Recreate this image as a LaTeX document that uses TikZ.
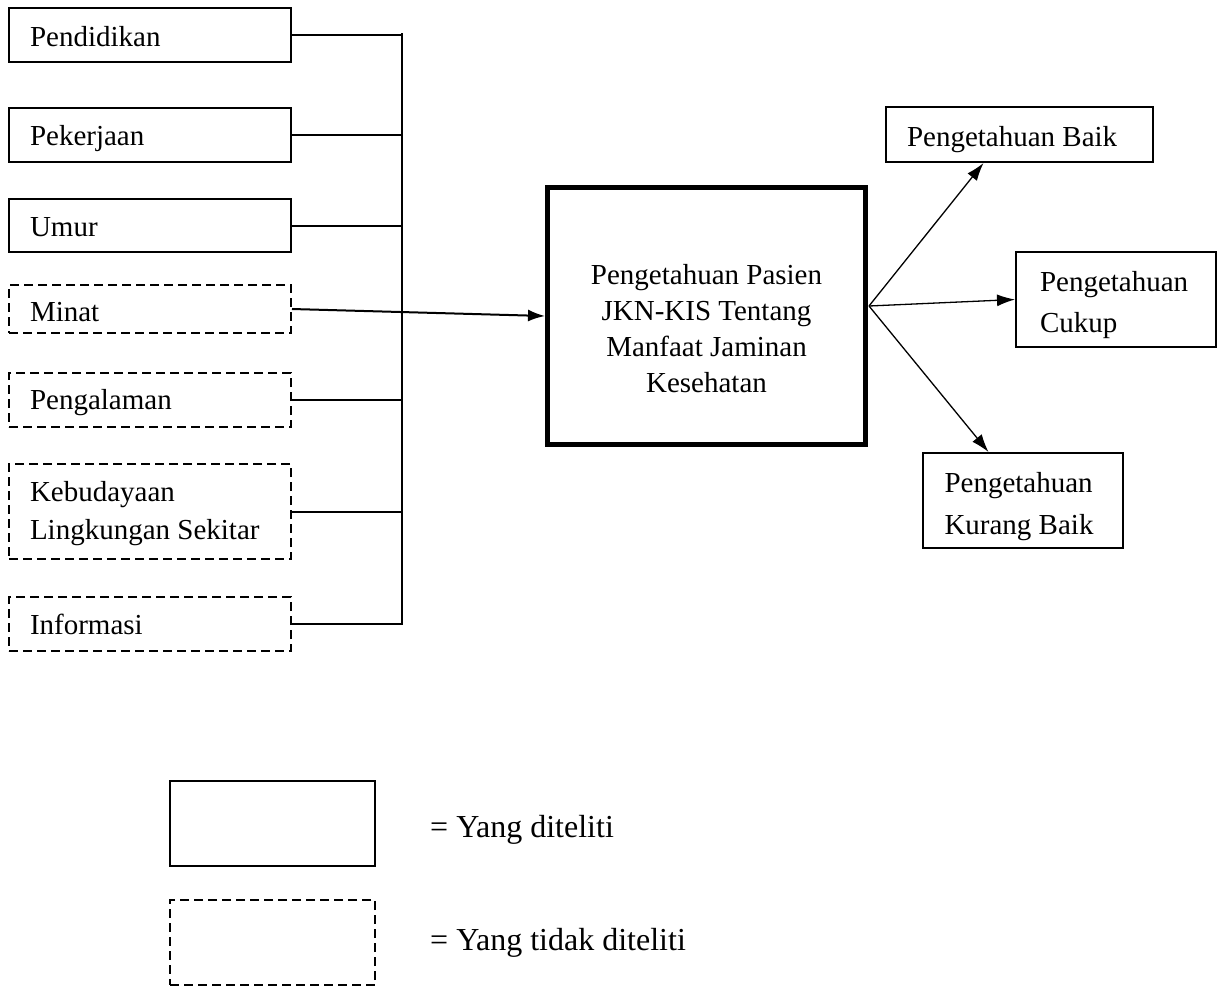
\documentclass[tikz,border=0pt]{standalone}
\usepackage{fontspec}
\setmainfont{Liberation Serif}
\usetikzlibrary{arrows.meta,calc}
\newcommand{\hs}[1]{\rule{0pt}{#1pt}}
\newcommand{\ds}[1]{\rule[-#1pt]{0pt}{#1pt}}
\begin{document}
\begin{tikzpicture}[x=1pt,y=-1pt,
  base/.style={draw, rectangle, line width=2pt, inner ysep=0pt, font=\fontsize{29}{40}\selectfont, align=flush left},
  solidbox/.style={base},
  dashbox/.style={base, dash pattern=on 9pt off 5pt},
  leftbox/.style={text width=240pt, inner xsep=21pt},
  conn/.style={line width=2pt},
  outarrow/.style={line width=1.3pt, -{Latex[length=18pt,width=12pt]}},
  legtext/.style={anchor=base west, inner sep=0pt, font=\fontsize{32}{36}\selectfont}
]
\useasboundingbox (0,0) rectangle (1222,986);

% left factors
\node[solidbox, leftbox, minimum height=54pt] (pend) at (150,35) {\hs{28}Pendidikan\ds{6}};
\node[solidbox, leftbox, minimum height=54pt] (pek) at (150,135) {\hs{28}Pekerjaan\ds{6}};
\node[solidbox, leftbox, minimum height=53pt] (umur) at (150,225.5) {\hs{28}Umur\ds{6}};
\node[dashbox, leftbox, minimum height=48pt] (minat) at (150,309) {\hs{30}Minat\ds{6}};
\node[dashbox, leftbox, minimum height=54pt] (peng) at (150,400) {\hs{26}Pengalaman\ds{6}};
\node[dashbox, leftbox, minimum height=95pt, font=\fontsize{29}{38}\selectfont] (keb) at (150,511.5) {\hs{25}Kebudayaan\\Lingkungan Sekitar\ds{6}};
\node[dashbox, leftbox, minimum height=54pt] (info) at (150,624) {\hs{26}Informasi\ds{6}};

% bus
\coordinate (btop) at (402,33);
\coordinate (bbot) at (402,625);
\draw[conn] (btop) -- (bbot);
\draw[conn] (pend.east) -- (pend.east -| btop);
\draw[conn] (pek.east) -- (pek.east -| btop);
\draw[conn] (umur.east) -- (umur.east -| btop);
\draw[conn] (peng.east) -- (peng.east -| btop);
\draw[conn] (keb.east) -- (keb.east -| btop);
\draw[conn] (info.east) -- (info.east -| btop);

% main box
\node[draw, rectangle, line width=5pt, minimum width=318pt, minimum height=257pt, inner sep=0pt] (main) at (706.5,316)
  {\raisebox{-15pt}[0pt][0pt]{\parbox{300pt}{\centering\fontsize{29}{36}\selectfont Pengetahuan Pasien\\JKN-KIS Tentang\\Manfaat Jaminan\\Kesehatan}}};

\draw[line width=2pt, -{Latex[length=17pt,width=12pt]}] (minat.east) -- (main.west);

% outcomes
\node[solidbox, text width=225pt, inner xsep=21pt, minimum height=55pt] (baik) at (1019.5,134.5) {\hs{31}Pengetahuan Baik\ds{6}};
\node[solidbox, text width=152pt, inner xsep=24pt, minimum height=95pt, font=\fontsize{29}{41}\selectfont] (cukup) at (1116,299.5)
  {\hs{32}Pengetahuan\\Cukup\ds{6}};
\node[solidbox, text width=156pt, inner xsep=22pt, minimum height=95pt, font=\fontsize{29}{42}\selectfont] (kurang) at (1022.5,500.5) {\hs{33}Pengetahuan\\Kurang Baik\ds{6}};

\coordinate (src) at (869,306);
\draw[outarrow] (src) -- ($(baik.south)+(-36,0)$);
\draw[outarrow] (src) -- (cukup.west);
\draw[outarrow] (src) -- ($(kurang.north)+(-34,0)$);

% legend
\node[solidbox, minimum width=205pt, minimum height=85pt] (leg1) at (272.5,823.5) {};
\node[dashbox, minimum width=205pt, minimum height=85pt] (leg2) at (272.5,942.5) {};
\node[legtext] (t1) at (430,837) {= Yang diteliti};
\node[legtext] (t2) at (430,950) {= Yang tidak diteliti};
\end{tikzpicture}
\end{document}
